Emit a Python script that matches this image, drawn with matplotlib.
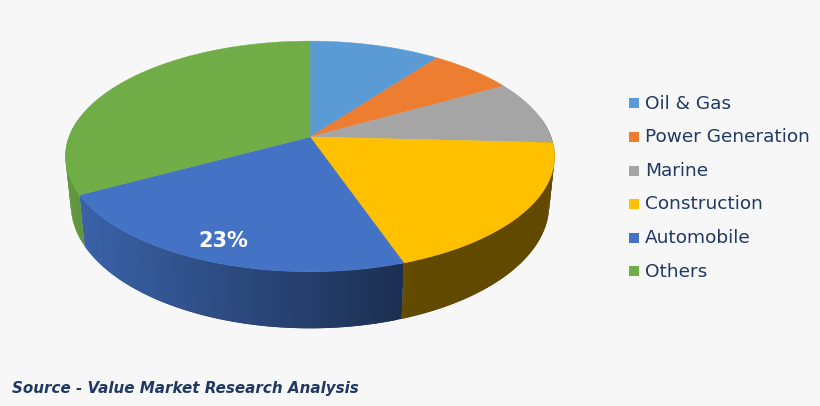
# -*- coding: utf-8 -*-
import numpy as np
import matplotlib
matplotlib.use("Agg")
import matplotlib.pyplot as plt
from matplotlib.collections import PolyCollection
from matplotlib.patches import Rectangle


# -------------------------
#           Data
# -------------------------

categories = ["Oil & Gas", "Power Generation", "Marine", "Construction", "Automobile", "Others"]
shares = [10.2, 6.6, 9.0, 18.9, 22.4, 32.9]
slice_labels = ["", "", "", "", "23%", ""]

colors = ["#5b9bd5", "#ed7d31", "#a5a5a5", "#ffc000", "#4472c4", "#70ad47"]
bg_color = "#f7f7f7"
text_color = "#1f3864"
source_text = "Source - Value Market Research Analysis"


# -------------------------
#       Projection
# -------------------------

# pie is drawn in pixel coordinates of the figure
cx, cy = 310., 137.
rx, ry = 241., 112.
persp = 0.169
depth = 47.
shrink = 0.978


def top_face(theta, r=1.):
   """ theta: clockwise from 12 o'clock, in radians """
   u, v = r * np.sin(theta), r * np.cos(theta)
   s = 1. / (1. + persp * r * np.cos(theta))
   return cx + rx * u * s, cy - ry * v * s


def bottom_face(theta):
   x, y = top_face(theta)
   s = 1. / (1. + persp * np.cos(theta))
   return cx + (x - cx) * shrink, y + depth * s


def side_shade(x):
   return np.interp(x, [70, 395, 410, 550], [0.88, 0.42, 0.38, 0.38])


# -------------------------
#           Plot
# -------------------------

fig = plt.figure(figsize=(8.201, 4.061), dpi=100, facecolor=bg_color)
ax = fig.add_axes([0, 0, 1, 1])
ax.set_xlim(0, 820)
ax.set_ylim(406, 0)
ax.axis("off")

edges = 2 * np.pi * np.concatenate(([0.], np.cumsum(shares))) / np.sum(shares)

# ---- 1. Side wall, front half only ----
for i, col in enumerate(colors):
   lo, hi = max(edges[i], np.radians(80)), min(edges[i + 1], np.radians(280))
   if hi <= lo:
      continue
   th = np.linspace(lo, hi, max(3, int((hi - lo) * 60)))
   xt, yt = top_face(th)
   xb, yb = bottom_face(th)
   quads, quad_colors = [], []
   base = np.array(matplotlib.colors.to_rgb(col))
   # strips overlap the next one so no seams show
   for k in range(th.size - 1):
      m = min(k + 2, th.size - 1)
      quads.append([(xt[k], yt[k]), (xt[m], yt[m]), (xb[m], yb[m]), (xb[k], yb[k])])
      quad_colors.append(base * side_shade(0.5 * (xb[k] + xb[k + 1])))
   ax.add_collection(PolyCollection(quads, facecolors=quad_colors, edgecolors="none", linewidths=0))

# ---- 2. Top face ----
for i, col in enumerate(colors):
   th = np.linspace(edges[i], edges[i + 1], 120)
   xt, yt = top_face(th)
   ax.fill(np.r_[cx, xt], np.r_[cy, yt], color=col, lw=0.3)

   if slice_labels[i]:
      mid = 0.5 * (edges[i] + edges[i + 1])
      xl, yl = top_face(mid, 0.86)
      ax.text(xl, yl, slice_labels[i], color="white", fontsize=15, fontweight="bold",
         family="DejaVu Sans", ha="center", va="center")

# ---- 3. Legend ----
legend_y = np.linspace(103.5, 271.5, len(categories))
for name, col, y in zip(categories, colors, legend_y):
   ax.add_patch(Rectangle((629, y - 5), 10, 10, facecolor=col, edgecolor="none"))
   ax.text(645, y, name, color=text_color, fontsize=13.3, family="DejaVu Sans", ha="left", va="center")

ax.text(12, 388.5, source_text, color=text_color, fontsize=10.9, family="DejaVu Sans",
   fontweight="bold", fontstyle="italic", ha="left", va="center")

plt.savefig("out.png", dpi=100, facecolor=bg_color)
